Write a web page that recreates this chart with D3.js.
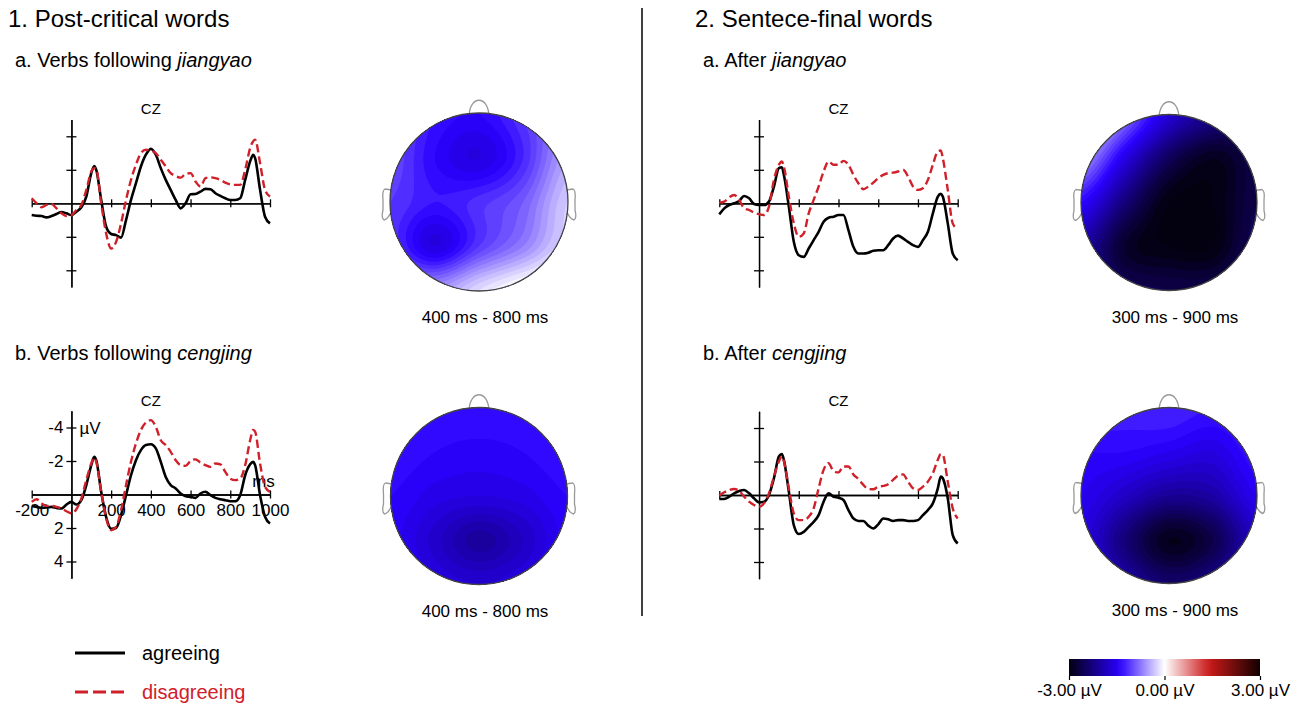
<!DOCTYPE html>
<html>
<head>
<meta charset="utf-8">
<script src="https://cdn.jsdelivr.net/npm/d3@7"></script>
<style>
  body { margin: 0; background: #fff; }
  svg { display: block; }
  text { font-family: Arial, "Liberation Sans", sans-serif; }
</style>
</head>
<body>
<svg width="1305" height="704"></svg>
<script>
// time points (ms) shared by all waveforms
const times = [-200,-175,-150,-125,-100,-75,-50,-25,0,25,50,75,100,115,125,150,175,200,225,250,275,300,325,350,375,400,425,450,475,500,525,550,575,600,625,650,675,700,725,750,775,800,825,850,875,900,915,925,950,975,1000];

// amplitudes in µV (negative plotted up), electrode CZ
const agree1a = [0.70,0.74,0.76,0.84,0.76,0.64,0.52,0.60,0.70,0.50,0.24,-0.40,-1.80,-2.23,-2.00,-0.20,1.40,1.83,1.90,2.05,1.00,-0.20,-1.20,-2.20,-2.90,-3.25,-2.90,-2.10,-1.40,-0.80,-0.20,0.30,0.00,-0.54,-0.56,-0.70,-0.86,-0.84,-0.60,-0.44,-0.30,-0.20,-0.20,-0.30,-1.40,-2.50,-2.90,-2.70,-0.80,0.80,1.20];
const disagree1a = [-0.30,0.00,0.24,0.10,0.04,0.30,0.60,0.76,0.70,0.40,0.10,-0.80,-1.90,-2.10,-2.05,0.00,1.80,2.70,2.30,1.20,-0.20,-1.40,-2.30,-3.00,-3.20,-3.14,-3.00,-2.60,-2.20,-1.80,-1.63,-1.53,-1.75,-1.80,-1.30,-1.00,-1.50,-1.55,-1.50,-1.40,-1.23,-1.13,-1.10,-1.10,-2.00,-3.30,-3.70,-3.80,-2.40,-0.80,-0.40];
const agree1b = [0.68,0.74,0.80,0.78,0.74,0.80,0.84,0.60,0.44,0.60,0.34,-0.56,-1.75,-2.25,-2.05,-0.16,1.35,2.05,2.00,1.23,0.04,-1.15,-2.05,-2.65,-2.95,-3.00,-2.75,-1.95,-1.05,-0.56,-0.36,-0.06,0.10,0.14,0.20,-0.06,-0.16,0.04,0.20,0.28,0.34,0.40,0.40,0.04,-1.15,-1.80,-1.95,-1.75,0.04,1.33,1.73];
const disagree1b = [0.44,0.28,0.54,0.68,0.68,0.74,0.84,1.00,1.13,0.88,0.24,-0.86,-1.85,-2.20,-1.95,-0.16,1.43,2.13,1.93,0.94,-0.56,-1.95,-3.05,-3.85,-4.30,-4.44,-4.04,-3.24,-2.95,-2.55,-2.05,-1.75,-1.71,-2.00,-2.10,-1.90,-1.75,-1.65,-1.85,-1.80,-1.35,-0.95,-0.86,-0.95,-1.75,-3.24,-3.85,-3.75,-1.85,-0.46,-0.16];
const agree2a = [0.66,0.30,0.10,0.00,-0.14,-0.44,-0.30,0.04,0.10,0.10,-0.10,-1.00,-2.10,-2.15,-1.70,0.20,2.30,3.10,3.20,2.70,2.20,1.70,1.10,0.86,0.80,0.70,0.70,1.60,2.60,3.00,3.00,2.95,2.83,2.80,2.80,2.50,2.10,1.93,2.10,2.30,2.50,2.60,2.20,1.70,0.60,-0.40,-0.56,-0.40,1.20,3.00,3.40];
const disagree2a = [-0.04,-0.10,-0.36,-0.50,-0.20,0.30,0.40,0.56,0.65,0.70,0.20,-1.40,-2.30,-2.50,-2.20,-0.40,1.20,2.00,1.80,0.60,-0.20,-1.00,-1.90,-2.50,-2.30,-2.30,-2.53,-2.30,-1.70,-1.20,-0.84,-1.00,-1.23,-1.50,-1.70,-1.80,-1.83,-1.90,-2.00,-1.60,-1.00,-0.80,-0.90,-1.40,-2.30,-3.10,-3.15,-2.70,-0.80,1.20,1.55];
const agree2b = [0.24,0.24,0.10,-0.10,-0.24,-0.30,-0.10,0.20,0.44,0.40,0.00,-1.00,-2.30,-2.45,-2.10,-0.20,1.80,2.33,2.20,1.90,1.60,1.20,0.40,-0.10,0.10,0.16,0.30,0.90,1.40,1.55,1.55,1.83,2.00,1.75,1.40,1.45,1.55,1.50,1.50,1.55,1.55,1.50,1.20,0.90,0.50,-0.40,-1.10,-1.00,0.20,2.40,2.90];
const disagree2b = [0.04,-0.16,-0.30,-0.36,-0.24,0.10,0.40,0.60,0.70,0.50,-0.10,-1.10,-2.00,-2.30,-2.03,-0.40,1.10,1.50,1.50,1.30,0.80,-0.40,-1.50,-1.90,-1.43,-1.35,-1.70,-1.70,-1.23,-0.95,-0.60,-0.36,-0.34,-0.50,-0.54,-0.64,-0.90,-1.15,-1.23,-0.80,-0.40,-0.30,-0.50,-0.80,-1.30,-2.10,-2.45,-2.40,-0.80,0.80,1.40];

const yTicks = [-4, -2, 2, 4];
const xTicks = [-200, 200, 400, 600, 800, 1000];

// scalp maps: 5x5 grids of µV, rows front -> back, columns left -> right
const topo1a = [
  [-1.00, -1.30, -1.40, -1.10, -0.70],
  [-1.00, -1.40, -1.60, -1.20, -0.50],
  [-1.10, -1.30, -1.15, -0.90, -0.30],
  [-1.10, -1.60, -1.10, -0.70, -0.20],
  [-0.60, -0.60, -0.20,  0.10,  0.30]
];
const topo1b = [
  [-1.20, -1.30, -1.30, -1.30, -1.20],
  [-1.30, -1.40, -1.45, -1.40, -1.30],
  [-1.40, -1.55, -1.60, -1.55, -1.40],
  [-1.45, -1.75, -2.05, -1.80, -1.45],
  [-1.35, -1.60, -1.70, -1.60, -1.35]
];
const topo2a = [
  [ 0.00, -0.80, -1.70, -2.20, -2.40],
  [-0.60, -1.60, -2.50, -2.90, -2.60],
  [-1.40, -2.30, -3.00, -3.00, -2.60],
  [-2.00, -2.80, -3.00, -3.00, -2.50],
  [-2.20, -2.50, -2.60, -2.60, -2.40]
];
const topo2b = [
  [-1.20, -1.25, -1.20, -1.30, -1.20],
  [-1.40, -1.40, -1.50, -1.60, -1.30],
  [-1.50, -1.80, -2.10, -2.00, -1.50],
  [-1.60, -2.30, -2.90, -2.60, -1.80],
  [-1.50, -2.00, -2.40, -2.20, -1.60]
];

const colorDomain = [-3, -1.4, 0, 1.4, 3];
const colorRange = ["#03000f", "#2a00ff", "#ffffff", "#cc1a1a", "#120000"];
const cbarTicks = [-3, 0, 3];

const svg = d3.select("svg");
const red = "#d0202a";
const color = d3.scaleLinear().domain(colorDomain).range(colorRange).clamp(true);

// headings
function heading(x, y, size, parts, fill) {
  const t = svg.append("text").attr("x", x).attr("y", y).attr("font-size", size).attr("fill", fill || "#000");
  parts.forEach(p => t.append("tspan").attr("font-style", p[1] ? "italic" : null).text(p[0]));
}
heading(8, 27, 24, [["1. Post-critical words"]]);
heading(695, 27, 24, [["2. Sentece-final words"]]);
heading(15, 67, 20, [["a. Verbs following "], ["jiangyao", true]]);
heading(703, 67, 20, [["a. After "], ["jiangyao", true]]);
heading(15, 360, 20, [["b. Verbs following "], ["cengjing", true]]);
heading(703, 360, 20, [["b. After "], ["cengjing", true]]);

svg.append("line").attr("x1", 642).attr("x2", 642).attr("y1", 8).attr("y2", 616)
  .attr("stroke", "#000").attr("stroke-width", 1.5);

function erp(agree, disagree, x0, x1, axisY, labels) {
  const x = d3.scaleLinear().domain([-200, 1000]).range([x0, x1]);
  const y = d3.scaleLinear().domain([-5, 5]).range([axisY - 83.75, axisY + 83.75]);
  const g = svg.append("g");

  const fmt = labels ? (d => String(d)) : "";
  g.append("g").attr("transform", `translate(${x(0)},0)`)
    .call(d3.axisLeft(y).tickValues(yTicks).tickSize(5).tickSizeOuter(0).tickPadding(3).tickFormat(fmt));
  g.append("g").attr("transform", `translate(${x(0)},0)`)
    .call(d3.axisRight(y).tickValues(yTicks).tickSize(5).tickSizeOuter(0).tickFormat(""));
  g.append("g").attr("transform", `translate(0,${axisY})`)
    .call(d3.axisBottom(x).tickValues(xTicks).tickSize(4).tickSizeOuter(0).tickPadding(5).tickFormat(fmt));
  g.append("g").attr("transform", `translate(0,${axisY})`)
    .call(d3.axisTop(x).tickValues(xTicks).tickSize(4).tickSizeOuter(0).tickFormat(""));
  g.selectAll(".domain, .tick line").attr("stroke", "#000").attr("stroke-width", 1.3);
  g.selectAll(".tick text").attr("font-size", 17).attr("font-family", "Arial, 'Liberation Sans', sans-serif").attr("fill", "#000");

  g.append("text").attr("x", x(400)).attr("y", axisY - 89).attr("text-anchor", "middle")
    .attr("font-size", 15).text("CZ");
  if (labels) {
    g.append("text").attr("x", x(0) + 8).attr("y", y(-4) + 6).attr("font-size", 17).text("µV");
    g.append("text").attr("x", x(910)).attr("y", axisY - 8).attr("font-size", 17).text("ms");
  }

  const line = d3.line().x((d, i) => x(times[i])).y(d => y(d)).curve(d3.curveMonotoneX);
  g.append("path").datum(agree).attr("d", line).attr("fill", "none")
    .attr("stroke", "#000").attr("stroke-width", 2.6);
  g.append("path").datum(disagree).attr("d", line).attr("fill", "none")
    .attr("stroke", red).attr("stroke-width", 2.4).attr("stroke-dasharray", "8,4");
}

erp(agree1a, disagree1a, 31.7, 270, 203.3, false);
erp(agree1b, disagree1b, 31.7, 270, 494.5, true);
erp(agree2a, disagree2a, 719.3, 957.7, 203.3, false);
erp(agree2b, disagree2b, 719.3, 957.7, 495, false);

// bicubic sampling of a 5x5 grid
function cubic(p0, p1, p2, p3, t) {
  return p1 + 0.5 * t * (p2 - p0 + t * (2 * p0 - 5 * p1 + 4 * p2 - p3 + t * (3 * (p1 - p2) + p3 - p0)));
}
function sample(grid, u, v) {
  const i = Math.min(Math.floor(u), 3), j = Math.min(Math.floor(v), 3);
  const tu = u - i, tv = v - j;
  const at = (jj, ii) => grid[Math.max(0, Math.min(4, jj))][Math.max(0, Math.min(4, ii))];
  const rows = [-1, 0, 1, 2].map(dj => cubic(at(j + dj, i - 1), at(j + dj, i), at(j + dj, i + 1), at(j + dj, i + 2), tu));
  return cubic(rows[0], rows[1], rows[2], rows[3], tv);
}

const defs = svg.append("defs");
let clipId = 0;
function topomap(grid, cx, cy, r, caption) {
  const g = svg.append("g");
  const top = cy - r;
  // nose and ears
  g.append("path")
    .attr("d", `M${cx - 10},${top + 3} C${cx - 9},${top - 18} ${cx + 9},${top - 18} ${cx + 10},${top + 3}`)
    .attr("fill", "#fff").attr("stroke", "#999").attr("stroke-width", 1.3);
  [-1, 1].forEach(s => {
    const ex = cx + s * r;
    g.append("path")
      .attr("d", `M${ex - s * 2},${cy - 12} L${ex + s * 5},${cy - 13} Q${ex + s * 8},${cy - 12} ${ex + s * 7},${cy - 2}
        L${ex + s * 7},${cy + 8} Q${ex + s * 9},${cy + 16} ${ex + s * 6},${cy + 18} Q${ex + s * 2},${cy + 17} ${ex - s * 1},${cy + 10}`)
      .attr("fill", "#fff").attr("stroke", "#999").attr("stroke-width", 1.3);
  });

  const n = 120;
  const vals = new Array(n * n);
  for (let j = 0; j < n; j++) {
    for (let i = 0; i < n; i++) {
      vals[j * n + i] = sample(grid, (i / (n - 1)) * 4, (j / (n - 1)) * 4);
    }
  }
  const step = 0.1;
  const contours = d3.contours().size([n, n]).thresholds(d3.range(-3.6, 3.6, step))(vals);
  const path = d3.geoPath(d3.geoIdentity().scale((2 * r) / n).translate([cx - r, cy - r]));

  const id = "clip" + (clipId++);
  defs.append("clipPath").attr("id", id).append("circle").attr("cx", cx).attr("cy", cy).attr("r", r);
  g.append("g").attr("clip-path", `url(#${id})`)
    .selectAll("path").data(contours).join("path")
    .attr("d", path).attr("fill", d => color(d.value + step / 2));
  g.append("circle").attr("cx", cx).attr("cy", cy).attr("r", r)
    .attr("fill", "none").attr("stroke", "#444").attr("stroke-width", 1.3);

  g.append("text").attr("x", cx + 6).attr("y", cy + r + 32).attr("text-anchor", "middle")
    .attr("font-size", 17).text(caption);
}

topomap(topo1a, 479, 202, 89, "400 ms - 800 ms");
topomap(topo1b, 479, 496, 88.5, "400 ms - 800 ms");
topomap(topo2a, 1169, 202.5, 88, "300 ms - 900 ms");
topomap(topo2b, 1169, 495.5, 88, "300 ms - 900 ms");

// legend
svg.append("line").attr("x1", 75).attr("x2", 125).attr("y1", 653).attr("y2", 653)
  .attr("stroke", "#000").attr("stroke-width", 3);
svg.append("text").attr("x", 142).attr("y", 660).attr("font-size", 20).text("agreeing");
svg.append("line").attr("x1", 75).attr("x2", 125).attr("y1", 692).attr("y2", 692)
  .attr("stroke", red).attr("stroke-width", 3).attr("stroke-dasharray", "13,5");
svg.append("text").attr("x", 142).attr("y", 699).attr("font-size", 20).attr("fill", red).text("disagreeing");

// colour bar
const grad = defs.append("linearGradient").attr("id", "cbar");
d3.range(-3, 3.01, 0.25).forEach(v => {
  grad.append("stop").attr("offset", (v + 3) / 6).attr("stop-color", color(v));
});
const cx0 = 1069, cx1 = 1260;
svg.append("rect").attr("x", cx0).attr("y", 659).attr("width", cx1 - cx0).attr("height", 17).attr("fill", "url(#cbar)");
const cScale = d3.scaleLinear().domain([-3, 3]).range([cx0, cx1]);
const cAxis = svg.append("g").attr("transform", "translate(0,676)")
  .call(d3.axisBottom(cScale).tickValues(cbarTicks).tickSize(4).tickPadding(4).tickFormat(d => d.toFixed(2) + " µV"));
cAxis.select(".domain").remove();
cAxis.selectAll(".tick line").attr("stroke", "#000").attr("stroke-width", 1.2);
cAxis.selectAll(".tick text").attr("font-size", 17).attr("font-family", "Arial, 'Liberation Sans', sans-serif").attr("fill", "#000");
</script>
</body>
</html>
